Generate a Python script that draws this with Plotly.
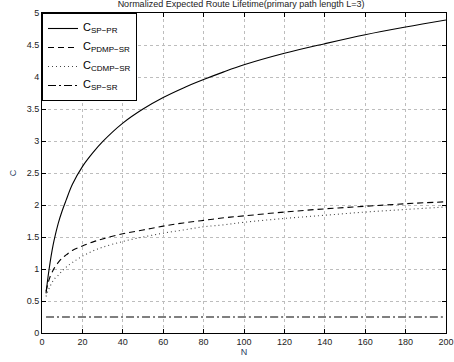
import plotly.graph_objects as go

N = [2, 3, 4, 5, 6, 8, 10, 12, 15, 20, 25, 30, 40, 50, 60, 70, 80, 90, 100, 120, 140, 160, 180, 200]
C_SP_PR = [0.62, 0.88, 1.1, 1.29, 1.45, 1.71, 1.91, 2.08, 2.32, 2.6, 2.81, 2.99, 3.28, 3.5, 3.68, 3.83, 3.96, 4.08, 4.19, 4.37, 4.52, 4.66, 4.78, 4.89]
C_PDMP_SR = [0.65, 0.78, 0.88, 0.95, 1.01, 1.1, 1.17, 1.22, 1.29, 1.36, 1.42, 1.47, 1.55, 1.61, 1.67, 1.72, 1.76, 1.80, 1.83, 1.89, 1.94, 1.98, 2.02, 2.05]
C_CDMP_SR = [0.57, 0.66, 0.73, 0.79, 0.84, 0.9, 0.97, 1.03, 1.1, 1.2, 1.28, 1.34, 1.43, 1.5, 1.56, 1.61, 1.66, 1.69, 1.73, 1.79, 1.84, 1.89, 1.93, 1.97]
C_SP_SR = [0.25] * len(N)

subs = ["SP−PR", "PDMP−SR", "CDMP−SR", "SP−SR"]
names = [f"<span style='font-size:11px'>C</span><sub><span style='font-size:8px'>{s}</span></sub>" for s in subs]
series = [C_SP_PR, C_PDMP_SR, C_CDMP_SR, C_SP_SR]
dashes = ["solid", "6px,4px", "1px,3px", "8px,3px,2px,3px"]
colors = ["black", "black", "#444", "black"]

x_ticks = [0, 20, 40, 60, 80, 100, 120, 140, 160, 180, 200]
y_ticks = [0, 0.5, 1, 1.5, 2, 2.5, 3, 3.5, 4, 4.5, 5]

fig = go.Figure()
for nm, ys, d, c in zip(names, series, dashes, colors):
    fig.add_trace(go.Scatter(x=N, y=ys, mode="lines", name=nm,
                             line=dict(color=c, width=1.1, dash=d, shape="spline")))

font = "Liberation Sans, Arial, sans-serif"
axis_common = dict(showline=True, linecolor="black", linewidth=1, mirror="ticks",
                   ticks="inside", ticklen=4, tickcolor="black", automargin=False,
                   showgrid=True, gridcolor="#bdbdbd", griddash="dot", gridwidth=1,
                   zeroline=False, tickfont=dict(size=9, color="#222", family=font))

fig.update_layout(
    width=454, height=362,
    margin=dict(l=42, r=8, t=13, b=29),
    paper_bgcolor="white", plot_bgcolor="white",
    title=dict(text="Normalized Expected Route Lifetime(primary path length L=3)",
               x=0.531, xanchor="center", y=0.997, yanchor="top",
               font=dict(size=9, family=font, color="#222")),
    xaxis=dict(range=[0, 200], tickvals=x_ticks, ticklabeloverflow="allow",
               title=dict(text="N", standoff=2, font=dict(size=9, family=font)), **axis_common),
    yaxis=dict(range=[0, 5], tickvals=y_ticks, ticktext=[f"{v:g}" for v in y_ticks],
               title=dict(text="C", standoff=8, font=dict(size=9, family=font)), **axis_common),
    legend=dict(x=0, y=1, xanchor="left", yanchor="top", bgcolor="white",
                bordercolor="black", borderwidth=1, tracegroupgap=0,
                font=dict(size=7, family=font, color="black"), itemwidth=30),
    showlegend=True,
)

fig.write_html("out.html", config={"displayModeBar": False},
               post_script="document.body.style.margin='0';document.body.style.padding='0';")
